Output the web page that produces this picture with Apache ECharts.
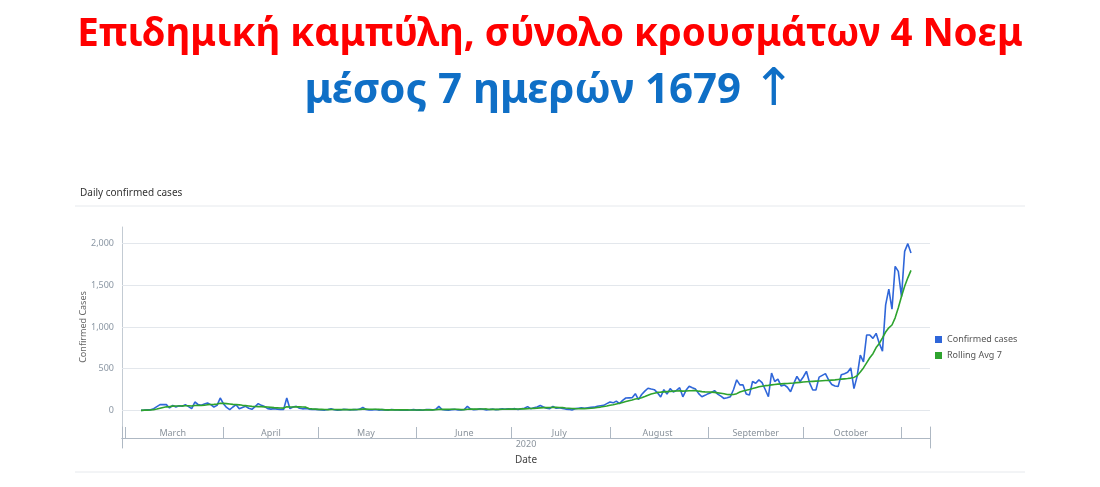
<!DOCTYPE html>
<html>
<head>
<meta charset="utf-8">
<script src="https://cdn.jsdelivr.net/npm/echarts@6/dist/echarts.min.js"></script>
<style>
  html, body { margin: 0; padding: 0; background: #fff; }
  #chart { width: 1100px; height: 487px; }
</style>
</head>
<body>
<div id="chart"></div>
<script>
// axis range and first day with data
const axisStart = '2020-02-29'
const axisEnd = '2020-11-10'
const dataStart = '2020-03-06'
const monthNames = ['January','February','March','April','May','June','July','August','September','October','November','December']
const yTicks = [0, 500, 1000, 1500, 2000]

// daily confirmed cases, 6 Mar -> 4 Nov
const confirmed = [
  0, 2, 5, 6, 20, 45, 68, 70, 68, 28, 60, 40, 55, 50, 68, 45, 20, 100, 70, 60, 75, 88, 68, 40, 60, 148,
  80, 35, 8, 40, 68, 20, 35, 48, 25, 12, 45, 80, 60, 45, 20, 15, 20, 15, 12, 10, 148, 20, 40, 48, 25, 18, 22, 15, 10, 12,
  8, 5, 3, 10, 20, 8, 2, 5, 12, 10, 4, 10, 8, 15, 35, 10, 4, 6, 10, 3, 8, 5, 2, 10, 6, 4, 3, 2, 1, 4, 8,
  3, 5, 1, 10, 8, 5, 12, 48, 10, 5, 3, 8, 12, 4, 6, 10, 48, 15, 8, 10, 18, 12, 5, 10, 15, 8, 12, 20, 14, 18,
  15, 20, 10, 18, 25, 45, 20, 30, 40, 58, 40, 25, 20, 48, 25, 30, 22, 15, 12, 5, 20, 25, 30, 25, 30, 35, 38, 48, 55, 60, 80,
  100, 90, 110, 80, 120, 148, 150, 152, 200, 128, 190, 230, 265, 255, 248, 210, 160, 248, 195, 260, 220, 240, 272, 162, 240, 288, 270, 255, 200, 163, 180,
  200, 215, 236, 195, 170, 142, 150, 163, 250, 366, 305, 305, 195, 183, 346, 325, 366, 333, 250, 163, 448, 346, 374, 293, 305, 277, 224, 320, 407, 346,
  400, 468, 330, 244, 244, 399, 420, 440, 366, 310, 293, 285, 427, 440, 456, 509, 261, 407, 663, 582, 904, 904, 863, 924, 803, 711, 1265, 1454, 1213, 1727, 1667,
  1365, 1908, 2000, 1888
]

// 7 day rolling average, 6 Mar -> 4 Nov
const rollingAvg = [
  0, 2, 3, 4, 8, 15, 25, 35, 42, 45, 50, 52, 52, 53, 55, 55, 52, 58, 60, 58, 62, 68, 70, 72, 75, 85,
  84, 80, 76, 72, 70, 66, 60, 56, 52, 48, 46, 45, 44, 42, 40, 36, 32, 30, 28, 27, 42, 40, 40, 42, 42, 40, 38, 22, 18, 15,
  12, 11, 10, 9, 10, 10, 9, 8, 8, 9, 9, 9, 10, 11, 14, 14, 13, 13, 13, 12, 10, 6, 6, 6, 6, 6, 5, 5, 5, 4, 4,
  4, 4, 4, 5, 5, 6, 7, 12, 12, 12, 12, 13, 13, 13, 8, 8, 13, 14, 15, 15, 16, 16, 17, 11, 12, 11, 12, 13, 13, 14,
  15, 15, 16, 17, 18, 21, 22, 24, 26, 30, 32, 33, 34, 36, 35, 34, 32, 28, 25, 22, 20, 19, 20, 21, 22, 25, 28, 34, 39, 45, 52,
  60, 67, 77, 85, 95, 105, 115, 123, 135, 142, 152, 165, 180, 195, 205, 215, 218, 222, 225, 228, 230, 232, 234, 230, 232, 235, 236, 238, 230, 225, 222,
  220, 218, 215, 210, 205, 198, 190, 188, 190, 200, 220, 232, 240, 250, 262, 272, 282, 290, 296, 300, 305, 310, 314, 318, 320, 322, 325, 328, 332, 336,
  340, 343, 346, 348, 350, 352, 355, 358, 360, 363, 366, 370, 374, 378, 382, 387, 395, 415, 460, 509, 570, 631, 680, 753, 803, 870, 940, 990, 1024, 1110, 1230,
  1365, 1490, 1590, 1679
]

const days = []
for (let d = new Date(axisStart + 'T00:00:00Z'); d <= new Date(axisEnd + 'T00:00:00Z'); d.setUTCDate(d.getUTCDate() + 1)) {
  days.push(d.toISOString().slice(0, 10))
}
const first = days.indexOf(dataStart)

const font = 'Noto Sans'
const bandColor = '#aeb8c3'
// small helper for the plain frame axes of the date band
const frameY = (grid, pos) => ({
  type: 'value', gridIndex: grid, position: pos,
  axisLine: { show: true, lineStyle: { color: bandColor } },
  axisTick: { show: false }, axisLabel: { show: false }, splitLine: { show: false }
})

const chart = echarts.init(document.getElementById('chart'))
chart.setOption({
  animation: false,
  textStyle: { fontFamily: font },
  title: [
    {
      text: 'Επιδημική καμπύλη, σύνολο κρουσμάτων 4 Νοεμ',
      left: 'center', top: 11,
      textStyle: { color: '#ff0000', fontSize: 38.5, fontWeight: 'bold', fontFamily: font }
    },
    {
      text: 'μέσος 7 ημερών 1679 {a|↑}',
      left: 'center', top: 60,
      textStyle: {
        color: '#0f6fc6', fontSize: 42, fontWeight: 'bold', fontFamily: font,
        rich: { a: { color: '#0f6fc6', fontSize: 52, fontWeight: 'normal', fontFamily: 'DejaVu Sans' } }
      }
    },
    {
      text: 'Daily confirmed cases',
      left: 75, top: 183,
      textStyle: { color: '#333', fontSize: 10, fontWeight: 'normal', fontFamily: font }
    }
  ],
  graphic: [ // card separators
    { type: 'line', shape: { x1: 75, y1: 206, x2: 1025, y2: 206 }, style: { stroke: '#e6e9ed', lineWidth: 1 } },
    { type: 'line', shape: { x1: 75, y1: 472, x2: 1025, y2: 472 }, style: { stroke: '#e6e9ed', lineWidth: 1 } }
  ],
  legend: {
    orient: 'vertical',
    left: 930, top: 330,
    itemWidth: 7, itemHeight: 7, itemGap: 7,
    icon: 'rect',
    textStyle: { fontSize: 9, color: '#555' },
    data: ['Confirmed cases', 'Rolling Avg 7']
  },
  grid: [
    { left: 122, right: 170, top: 227, bottom: 60 },      // plot
    { left: 122, right: 170, top: 427, height: 11 },      // months
    { left: 122, right: 170, top: 438, height: 10 }       // year
  ],
  xAxis: [
    {
      type: 'category', gridIndex: 0, data: days, boundaryGap: false,
      axisLine: { show: false }, axisTick: { show: false }, axisLabel: { show: false },
      name: 'Date', nameLocation: 'middle', nameGap: 28,
      nameTextStyle: { fontSize: 10, color: '#444' }
    },
    {
      type: 'category', gridIndex: 1, data: days, boundaryGap: false, position: 'top',
      axisLine: { show: true, lineStyle: { color: bandColor } },
      axisTick: { show: false },
      splitLine: {
        show: true, lineStyle: { color: bandColor },
        interval: (i, v) => v.slice(8) === '01'
      },
      axisLabel: {
        inside: true, margin: 2, fontSize: 9, color: '#8a939c',
        interval: (i, v) => v.slice(8) === '16',
        formatter: v => monthNames[+v.slice(5, 7) - 1]
      }
    },
    {
      type: 'category', gridIndex: 1, data: [''], position: 'bottom',
      axisLine: { show: true, lineStyle: { color: bandColor } },
      axisTick: { show: false }, axisLabel: { show: false }
    },
    {
      type: 'category', gridIndex: 2, data: ['2020'], position: 'top',
      axisLine: { show: false }, axisTick: { show: false },
      axisLabel: { inside: true, margin: 2, fontSize: 9, color: '#8a939c' }
    }
  ],
  yAxis: [
    {
      type: 'value', gridIndex: 0, min: -200, max: 2200, interval: 100,
      axisLine: { show: true, lineStyle: { color: '#c3cbd3' } },
      axisTick: { show: false },
      splitLine: { show: false },
      axisLabel: {
        fontSize: 9, color: '#8a96a3',
        formatter: v => (v >= 0 && v % 500 === 0) ? v.toLocaleString('en-US') : ''
      },
      name: 'Confirmed Cases', nameLocation: 'middle', nameGap: 34, nameMoveOverlap: false,
      nameTextStyle: { fontSize: 9, color: '#666' }
    },
    frameY(1, 'left'), frameY(1, 'right'),
    frameY(2, 'left'), frameY(2, 'right')
  ],
  series: [
    {
      name: 'Confirmed cases', type: 'line', xAxisIndex: 0, yAxisIndex: 0,
      showSymbol: false, symbol: 'none',
      lineStyle: { color: '#2f66d9', width: 1.6 },
      itemStyle: { color: '#2f66d9' },
      data: confirmed.map((v, k) => [days[first + k], v]),
      markLine: { // horizontal grid lines
        silent: true, symbol: 'none', z: 1,
        label: { show: false },
        lineStyle: { color: '#e3e7ec', width: 1, type: 'solid' },
        data: yTicks.map(t => ({ yAxis: t }))
      }
    },
    {
      name: 'Rolling Avg 7', type: 'line', xAxisIndex: 0, yAxisIndex: 0,
      showSymbol: false, symbol: 'none',
      lineStyle: { color: '#2ea32e', width: 1.6 },
      itemStyle: { color: '#2ea32e' },
      data: rollingAvg.map((v, k) => [days[first + k], v])
    }
  ]
})
</script>
</body>
</html>
